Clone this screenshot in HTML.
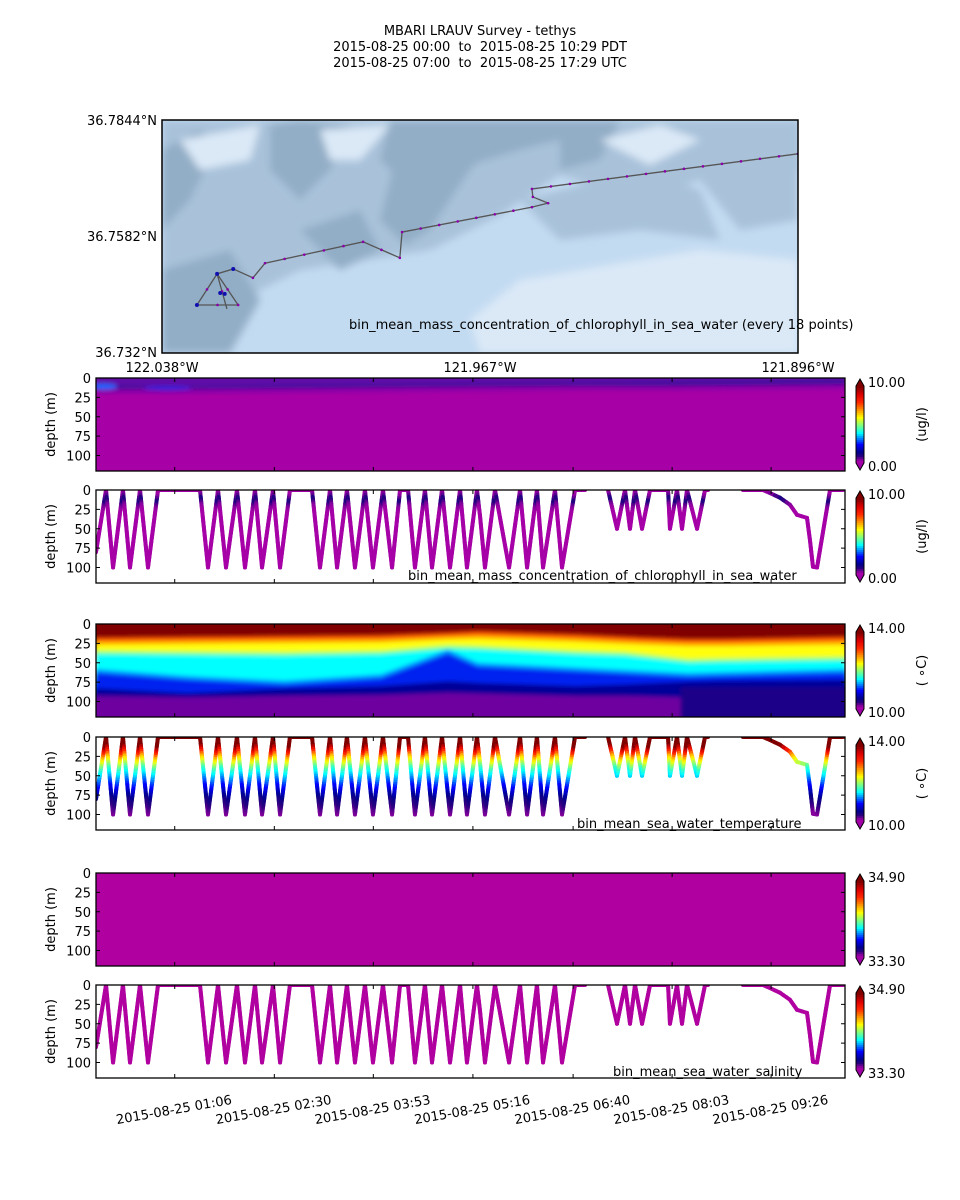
<!DOCTYPE html>
<html><head><meta charset="utf-8">
<style>
html,body{margin:0;padding:0;background:#fff;}
svg{display:block;font-family:"DejaVu Sans","Liberation Sans",sans-serif;}
text{fill:#000;font-size:13px;}
</style></head>
<body>
<svg id="fig" width="960" height="1200" viewBox="0 0 960 1200" xmlns="http://www.w3.org/2000/svg">
<defs>
  <filter id="blur2" x="-5%" y="-5%" width="110%" height="110%"><feGaussianBlur stdDeviation="2"/></filter>
  <filter id="blur4"><feGaussianBlur stdDeviation="4"/></filter>
  <clipPath id="clipMap"><rect x="162" y="120" width="636" height="233"/></clipPath>
</defs>
<text x="480" y="35" text-anchor="middle">MBARI LRAUV Survey - tethys</text>
<text x="480" y="51" text-anchor="middle" xml:space="preserve">2015-08-25 00:00  to  2015-08-25 10:29 PDT</text>
<text x="480" y="67" text-anchor="middle" xml:space="preserve">2015-08-25 07:00  to  2015-08-25 17:29 UTC</text>
<g id="root"></g>
</svg>
<script>
// ---------- data ----------
const timeTickMin = [66, 149.5, 232.5, 316, 400, 483, 566];
const timeTickLabels = ["2015-08-25 01:06","2015-08-25 02:30","2015-08-25 03:53","2015-08-25 05:16","2015-08-25 06:40","2015-08-25 08:03","2015-08-25 09:26"];
const depthTicks = [0, 25, 50, 75, 100];
// vehicle yo-yo trajectory (minutes since 00:00 PDT, depth m); null = gap
const profT = [0,8.4,14.3,22.6,28.5,36.9,43.6,52.0,87.2,93.9,102.3,109.0,118.2,124.9,133.3,139.2,148.4,154.3,162.6,181.1,187.8,196.2,202.1,210.4,217.1,225.5,232.2,240.6,248.2,254.9,261.6,267.4,275.8,281.7,290.1,296.8,305.2,311.0,319.4,322.0,326.1,334.5,346.3,355.5,361.4,369.7,374.8,384.8,390.7,401.6,410.0,null,429.3,436.8,443.5,447.7,451.9,457.8,464.5,479.6,481.2,487.1,491.3,495.5,503.9,510.6,513.1,null,542.4,559.2,565.1,573.5,581.8,587.7,596.1,598.6,601.1,604.5,615.4,626.3];
const profD = [80,0,100,0,100,0,100,0,0,100,0,100,0,100,0,100,0,100,0,0,100,0,100,0,100,0,100,0,100,0,0,100,0,100,0,100,0,100,0,34,100,0,100,0,100,0,100,0,100,0,0,null,0,50,0,50,0,50,0,0,50,0,50,0,50,0,0,null,0,0,4,10,19,32,36,65,99,100,0,0];
// temperature vs depth (for coloring profile)
const tempDepth = [0,10,18,26,40,60,80,100,120];
const tempVal = [14.3,14.1,13.3,12.6,11.8,11.1,10.5,10.2,10.1];
// chlorophyll vs depth
const chlDepth = [0,6,12,18,30,120];
const chlVal = [0.3,0.6,1.2,0.6,0.2,0.1];
// temperature section isotherm depths along time grid
const secT = [0,76,158,239,295,320,402,443,497,524,629];
const isoRed = [18,17,16,15,12,10,14,17,20,20,17];
const isoYel = [27,26,25,24,20,19,23,26,29,29,27];
const isoCyan = [40,41,42,40,33,34,40,42,51,50,48];
const isoBlue = [63,72,78,70,38,55,61,64,68,67,63];
const isoNavy = [83,89,83,80,74,76,80,78,74,73,72];
const isoPurp = [93,95,93,92,89,90,93,93,95,97,100];
// chlorophyll section: deep-chl band depths
const chlSecT = [0,20,40,80,160,240,320,400,480,560,629];
const chlBandTop = [9,10,11,11,9,8,7,6,5,4,3];
const chlBandBot = [15,14,14,14,13,12,11,10,10,9,8];
// map track (lon, lat)
const trackLon = [-121.896,-121.9554,-121.9552,-121.9518,-121.9554,-121.9844,-121.9849,-121.9931,-122.0150,-122.0177,-122.0221,-122.0257,-122.0302,-122.0210,-122.0257,-122.0235];
const trackLat = [36.7768,36.7689,36.7671,36.7657,36.7648,36.7592,36.7534,36.7570,36.7522,36.7489,36.7509,36.7498,36.7428,36.7428,36.7498,36.7419];

// ---------- helpers ----------
const NS = "http://www.w3.org/2000/svg";
const root = document.getElementById('root');
function mk(tag, attrs, parent){ const e=document.createElementNS(NS,tag); for(const k in attrs) e.setAttribute(k,attrs[k]); (parent||root).appendChild(e); return e; }
const X0=96, X1=845;
function xT(t){ return X0 + t*99/83; }
const PH=93, DMAX=120;
function yD(d, top){ return top + d*PH/DMAX; }
function interp(xs, ys, x){ if(x<=xs[0]) return ys[0]; for(let i=1;i<xs.length;i++){ if(x<=xs[i]){ const f=(x-xs[i-1])/(xs[i]-xs[i-1]); return ys[i-1]+f*(ys[i]-ys[i-1]); } } return ys[ys.length-1]; }
const cStops=[[0,[170,0,168]],[0.04,[160,0,165]],[0.1,[40,0,128]],[0.15,[0,0,140]],[0.25,[0,0,255]],[0.4,[0,255,255]],[0.6,[255,255,0]],[0.8,[255,40,0]],[0.9,[220,0,0]],[1,[128,0,0]]];
function cmap(v){ v=Math.max(0,Math.min(1,v)); for(let i=1;i<cStops.length;i++){ if(v<=cStops[i][0]){ const a=cStops[i-1],b=cStops[i]; const f=(v-a[0])/(b[0]-a[0]); const c=a[1].map((q,j)=>Math.round(q+f*(b[1][j]-q))); return `rgb(${c[0]},${c[1]},${c[2]})`; } } return 'rgb(128,0,0)'; }

const tops=[378,490,624,737,873,985];

function axes(top, name, xticks){
  const g=mk('g',{});
  
  
  depthTicks.forEach(d=>{
    const y=yD(d,top);
    const l1=mk('line',{x1:X0,x2:X0+4,y1:y,y2:y,stroke:'#000','stroke-width':1},g);
    
    
    mk('line',{x1:X1-4,x2:X1,y1:y,y2:y,stroke:'#000','stroke-width':1},g);
    const t=mk('text',{x:X0-5,y:y+5,'text-anchor':'end'},g); t.textContent=d;
    
    
  });
  if(xticks){ timeTickMin.forEach(tm=>{ const x=xT(tm); mk('line',{x1:x,x2:x,y1:top,y2:top+4,stroke:'#000'},g); mk('line',{x1:x,x2:x,y1:top+PH-4,y2:top+PH,stroke:'#000'},g); }); }
  const yl=mk('text',{x:0,y:0,'text-anchor':'middle',transform:`translate(55,${top+PH/2}) rotate(-90)`},g);
  yl.textContent='depth (m)';
  
  
  const box=mk('rect',{x:X0,y:top,width:X1-X0,height:PH,fill:'none',stroke:'#000','stroke-width':1.3},g);
  
  
}

function colorbar(top, hi, lo, unit, name){
  const g=mk('g',{});
  
  
  const x=856, w=8, y0=top+8, y1=top+PH-8;
  for(let i=0;i<40;i++){ const v=1-i/40; mk('rect',{x:x,y:y0+i*(y1-y0)/40,width:w,height:(y1-y0)/40+0.6,fill:cmap(v)},g); }
  mk('polygon',{points:`${x},${y0} ${x+w/2},${top+1} ${x+w},${y0}`,fill:'#800000'},g);
  mk('polygon',{points:`${x},${y1} ${x+w/2},${top+PH-1} ${x+w},${y1}`,fill:'#a000a8'},g);
  mk('path',{d:`M${x},${y0} L${x+w/2},${top+1} L${x+w},${y0} L${x+w},${y1} L${x+w/2},${top+PH-1} L${x},${y1} Z`,fill:'none',stroke:'#000','stroke-width':1},g);
  const a=mk('text',{x:868,y:top+9},g); a.textContent=hi;
  
  
  const b=mk('text',{x:868,y:top+93},g); b.textContent=lo;
  
  
  if(unit){ const u=mk('text',{x:0,y:0,'text-anchor':'middle',transform:`translate(926,${top+PH/2}) rotate(-90)`},g); u.textContent=unit;
    
     }
}

function bandPoly(ts, topArr, botArr, top, fill, g){
  let d='';
  ts.forEach((t,i)=>{ d+=(i?'L':'M')+xT(t)+','+yD(topArr[i],top)+' '; });
  if(botArr){ for(let i=ts.length-1;i>=0;i--) d+='L'+xT(ts[i])+','+yD(botArr[i],top)+' '; }
  else { d+=`L${xT(ts[ts.length-1])+10},${top+PH+10} L${xT(ts[0])-10},${top+PH+10} `; }
  d+='Z';
  return mk('path',{d:d,fill:fill},g);
}

function profile(top, colorFn, name){
  const g=mk('g',{});
  
  
  const cp=mk('clipPath',{id:'cp'+top},g); mk('rect',{x:X0,y:top,width:X1-X0,height:PH},cp);
  const gg=mk('g',{'clip-path':`url(#cp${top})`},g);
  for(let i=1;i<profT.length;i++){
    if(profT[i]===null||profT[i-1]===null) continue;
    const t0=profT[i-1],t1=profT[i],d0=profD[i-1],d1=profD[i];
    const n=Math.max(1,Math.ceil(Math.abs(d1-d0)/3));
    for(let k=0;k<n;k++){
      const ta=t0+(t1-t0)*k/n, tb=t0+(t1-t0)*(k+1)/n, da=d0+(d1-d0)*k/n, db=d0+(d1-d0)*(k+1)/n;
      const seg=mk('line',{x1:xT(ta),y1:yD(da,top),x2:xT(tb),y2:yD(db,top),stroke:colorFn((da+db)/2),'stroke-width':4,'stroke-linecap':'round'},gg);
      
      
    }
  }
}

// ---------- map ----------
(function(){
  const g=mk('g',{'clip-path':'url(#clipMap)'});
  
  
  mk('rect',{x:162,y:120,width:636,height:233,fill:'#c3dbf1'},g);
  const sh=mk('g',{filter:'url(#blur4)'},g);
  const dark='#92adc6', mid='#a9c2da', light='#dbe9f7';
  [[mid,'162,120 800,120 800,170 700,180 640,200 560,175 500,215 430,250 300,270 240,300 162,320'],
   [dark,'162,150 200,130 215,150 190,200 162,230'],
   [dark,'270,125 300,120 350,125 330,170 300,200 270,170'],
   [dark,'390,120 450,120 470,150 440,200 410,190 380,160'],
   [dark,'400,140 520,120 470,170 430,230 405,245 380,220'],
   [dark,'420,120 620,120 580,135 520,150 470,165'],
   [dark,'162,270 230,250 260,300 230,353 162,353'],
   [dark,'300,230 360,210 380,250 340,270'],
   [mid,'520,200 640,170 700,190 720,240 640,230 560,240'],
   [dark,'560,130 620,120 600,160 560,170'],
   [light,'520,280 700,250 798,260 798,353 480,353 470,320'],
   [light,'180,140 260,125 250,160 200,170'],
   [light,'320,130 390,125 360,160 330,160'],
   [light,'600,140 660,125 700,140 650,165'],
   [mid,'700,180 760,160 798,170 798,220 740,230']
  ].forEach(p=>mk('polygon',{points:p[1],fill:p[0]},sh));
  const lx=lon=>162+(lon+122.038)/0.142*636, ly=lat=>353-(lat-36.732)/0.0524*233;
  let pts=trackLon.map((lo,i)=>lx(lo)+','+ly(trackLat[i])).join(' ');
  const tr=mk('polyline',{points:pts,fill:'none',stroke:'#555','stroke-width':1.3},g);
  
  
  for(let i=1;i<trackLon.length;i++){
    const x0=lx(trackLon[i-1]),y0=ly(trackLat[i-1]),x1=lx(trackLon[i]),y1=ly(trackLat[i]);
    const L=Math.hypot(x1-x0,y1-y0), n=Math.max(1,Math.floor(L/18));
    for(let k=0;k<n;k++){ const f=k/n; const dot=mk('circle',{cx:x0+f*(x1-x0),cy:y0+f*(y1-y0),r:1.3,fill:'#8a00a8'},g);
      
       }
  }
  [[lx(-122.0302),ly(36.7428)],[lx(-122.0257),ly(36.7498)],[lx(-122.0221),ly(36.7509)],[lx(-122.0250),ly(36.7455)],[lx(-122.0240),ly(36.7453)]].forEach(p=>mk('circle',{cx:p[0],cy:p[1],r:2,fill:'#1010b0'},g));
  mk('rect',{x:162,y:120,width:636,height:233,fill:'none',stroke:'#000','stroke-width':1.5});
  [['36.7844°N',125],['36.7582°N',241],['36.732°N',357]].forEach(a=>{ const t=mk('text',{x:157,y:a[1],'text-anchor':'end'}); t.textContent=a[0];
    
     });
  [['122.038°W',162],['121.967°W',480],['121.896°W',798]].forEach(a=>{ const t=mk('text',{x:a[1],y:372,'text-anchor':'middle'}); t.textContent=a[0];
    
     });
  const ml=mk('text',{x:349,y:329}); ml.textContent='bin_mean_mass_concentration_of_chlorophyll_in_sea_water (every 18 points)';
  
  
})();

// ---------- chlorophyll section ----------
(function(){
  const top=tops[0];
  const g=mk('g',{});
  
  
  const cp=mk('clipPath',{id:'cs1'},g); mk('rect',{x:X0,y:top,width:X1-X0,height:PH},cp);
  const gg=mk('g',{'clip-path':'url(#cs1)'},g);
  mk('rect',{x:X0,y:top,width:X1-X0,height:PH,fill:'#a600a6'},gg);
  const bg=mk('g',{filter:'url(#blur2)'},gg);
  bandPoly(chlSecT, chlSecT.map(()=>-5), chlBandBot.map(v=>v+6), top, '#8a06a8', bg);
  bandPoly(chlSecT, chlBandTop.map(()=>-5), chlBandTop, top, '#6010a8', bg);
  bandPoly(chlSecT, chlBandTop, chlBandBot, top, '#2a0898', bg);
  mk('ellipse',{cx:xT(6),cy:yD(11,top),rx:14,ry:3,fill:'#1060ff'},bg);
  mk('ellipse',{cx:xT(60),cy:yD(13,top),rx:24,ry:2,fill:'#2020e0'},bg);
})();
axes(tops[0],'chlorophyll-section',true);
colorbar(tops[0],'10.00','0.00','(ug/l)','chlorophyll-section-colorbar');

// ---------- chlorophyll profile ----------
profile(tops[1], d=>cmap(interp(chlDepth,chlVal,d)/10), 'chlorophyll-profile');
axes(tops[1],'chlorophyll-profile',true);
colorbar(tops[1],'10.00','0.00','(ug/l)','chlorophyll-profile-colorbar');
(function(){ const t=mk('text',{x:408,y:580}); t.textContent='bin_mean_mass_concentration_of_chlorophyll_in_sea_water';
  
   })();

// ---------- temperature section ----------
(function(){
  const top=tops[2];
  const g=mk('g',{});
  
  
  const cp=mk('clipPath',{id:'cs3'},g); mk('rect',{x:X0,y:top,width:X1-X0,height:PH},cp);
  const gg=mk('g',{'clip-path':'url(#cs3)'},g);
  const bg=mk('g',{filter:'url(#blur2)'},gg);
  mk('rect',{x:X0-10,y:top-10,width:X1-X0+20,height:PH+20,fill:'#800000'},bg);
  bandPoly(secT, isoRed, null, top, '#ff5000', bg);
  bandPoly(secT, isoRed.map((v,i)=>(v+isoYel[i])/2), null, top, '#ffb000', bg);
  bandPoly(secT, isoYel, null, top, '#ffff10', bg);
  bandPoly(secT, isoCyan.map(v=>v-6), null, top, '#a0ff60', bg);
  bandPoly(secT, isoCyan.map(v=>v-2), null, top, '#20ffe0', bg);
  bandPoly(secT, isoCyan, null, top, '#00ffff', bg);
  bandPoly(secT, isoBlue.map(v=>v-5), null, top, '#0090ff', bg);
  bandPoly(secT, isoBlue, null, top, '#0020f0', bg);
  bandPoly(secT, isoNavy, null, top, '#000098', bg);
  bandPoly(secT, isoPurp, null, top, '#6e00a0', bg);
  mk('rect',{x:xT(490),y:yD(82,top),width:X1-xT(490)+10,height:PH,fill:'#1c0088'},bg);
})();
axes(tops[2],'temperature-section',true);
colorbar(tops[2],'14.00','10.00','( ∘C)','temperature-section-colorbar');

// ---------- temperature profile ----------
profile(tops[3], d=>cmap((interp(tempDepth,tempVal,d)-10)/4), 'temperature-profile');
axes(tops[3],'temperature-profile',true);
colorbar(tops[3],'14.00','10.00','( ∘C)','temperature-profile-colorbar');
(function(){ const t=mk('text',{x:577,y:828}); t.textContent='bin_mean_sea_water_temperature';
  
   })();

// ---------- salinity section ----------
(function(){
  const top=tops[4];
  const r=mk('rect',{x:X0,y:top,width:X1-X0,height:PH,fill:'#b000a0'});
  
  
})();
axes(tops[4],'salinity-section',true);
colorbar(tops[4],'34.90','33.30','','salinity-section-colorbar');

// ---------- salinity profile ----------
profile(tops[5], d=>'#b000a0', 'salinity-profile');
axes(tops[5],'salinity-profile',true);
colorbar(tops[5],'34.90','33.30','','salinity-profile-colorbar');
(function(){ const t=mk('text',{x:613,y:1076}); t.textContent='bin_mean_sea_water_salinity';
  
   })();

// ---------- time axis labels ----------
timeTickMin.forEach((tm,i)=>{
  const x=xT(tm);
  const t=mk('text',{x:0,y:0,'text-anchor':'middle',transform:`translate(${x},${1114}) rotate(-10)`});
  t.textContent=timeTickLabels[i];
  
  
});
</script>
</body></html>
